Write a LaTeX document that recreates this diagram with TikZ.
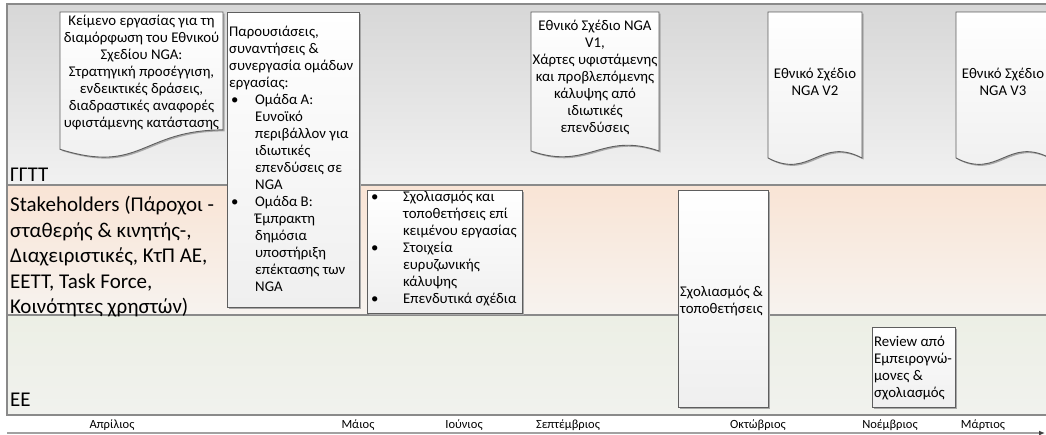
\documentclass[tikz,border=0pt]{standalone}
\usepackage{fontspec}
\setmainfont{Carlito}
\usetikzlibrary{arrows.meta}

\definecolor{laneline}{HTML}{8A8A8A}
\definecolor{boxline}{HTML}{5E5E5E}
\definecolor{shadowc}{HTML}{A8A8A8}
\definecolor{topA}{HTML}{D7D7D7}
\definecolor{topB}{HTML}{F1F1F1}
\definecolor{midA}{HTML}{F9E4D5}
\definecolor{midB}{HTML}{F7F3EF}
\definecolor{lowA}{HTML}{ECEFE5}
\definecolor{lowB}{HTML}{F1F2EE}
\definecolor{docB}{HTML}{EFEFEF}

\newcommand{\bodysize}{\fontsize{14.8}{17}\selectfont}
\newcommand{\lanesize}{\fontsize{21}{25.5}\selectfont}
\newcommand{\monthsize}{\fontsize{12.5}{13}\selectfont}

% document symbol with a flowchart-style bottom edge
% #1 x, #2 y (top), #3 width, #4 height
\newcommand{\docoutline}[4]{%
  (#1,#2) -- ({#1+#3},#2) -- ({#1+#3},{#2+0.802*#4})
  .. controls ({#1+0.5*#3},{#2+0.802*#4}) and ({#1+0.5*#3},{#2+1.107*#4}) ..
  (#1,{#2+0.934*#4}) -- cycle}
% document symbol with a symmetric wave at the bottom
% #1 x, #2 y (top), #3 width, #4 y of both wave ends, #5 wave depth
\newcommand{\waveoutline}[5]{%
  (#1,#2) -- ({#1+#3},#2) -- ({#1+#3},#4)
  .. controls ({#1+0.55*#3},{#4-#5}) and ({#1+0.45*#3},{#4+#5}) ..
  (#1,#4) -- cycle}
\newcommand{\docshape}[4]{%
  \fill[shadowc,shift={(1.5,1.5)}] \docoutline{#1}{#2}{#3}{#4};
  \draw[docstyle] \docoutline{#1}{#2}{#3}{#4};}
\newcommand{\waveshape}[5]{%
  \fill[shadowc,shift={(1.5,1.5)}] \waveoutline{#1}{#2}{#3}{#4}{#5};
  \draw[docstyle] \waveoutline{#1}{#2}{#3}{#4}{#5};}
\newcommand{\boxshape}[4]{%
  \fill[shadowc,shift={(1.5,1.5)}] (#1,#2) rectangle (#3,#4);
  \draw[docstyle] (#1,#2) rectangle (#3,#4);}

\begin{document}
\begin{tikzpicture}[x=1pt,y=-1pt,
  docstyle/.style={draw=boxline,line width=0.9pt,top color=white,bottom color=docB},
  lanerule/.style={draw=laneline,line width=2.2pt},
  bodytext/.style={font=\bodysize,inner sep=0pt,text=black},
  lanetext/.style={font=\lanesize,inner sep=0pt,anchor=north west,align=left},
  monthtext/.style={font=\monthsize,inner sep=0pt,anchor=center},
  axisline/.style={draw=laneline!80,line width=1.6pt,-{Latex[length=6pt,width=5pt,black!75]}}]
\useasboundingbox (0,0) rectangle (1046,434);
\begin{scope}
\clip (0,0) rectangle (1046,434);
\fill[white] (0,0) rectangle (1046,434);

% swimlanes
\shade[top color=topA,bottom color=topB] (7,4) rectangle (1050,185);
\shade[top color=midA,bottom color=midB] (7,185) rectangle (1050,315);
\shade[top color=lowA,bottom color=lowB] (7,315) rectangle (1050,415);
\draw[lanerule] (1050,4) -- (7,4) -- (7,415) -- (1050,415);
\draw[lanerule] (7,185) -- (1050,185);
\draw[lanerule] (7,315) -- (1050,315);

% lane titles
\node[lanetext] (laneG) at (10,167.5) {ΓΓΤΤ};
\node[lanetext] (laneS) at (10,196) {Stakeholders (Πάροχοι -\\σταθερής \& κινητής-,\\Διαχειριστικές, ΚτΠ ΑΕ,\\ΕΕΤΤ, Task Force,\\Κοινότητες χρηστών)};
\node[lanetext] (laneE) at (10,393) {ΕΕ};

% outputs of the ministry
\docshape{60}{12}{163}{147}
\node[bodytext,anchor=north,align=center] (docA) at (141.5,15)
  {Κείμενο εργασίας για τη\\διαμόρφωση του Εθνικού\\Σχεδίου NGA:\\Στρατηγική προσέγγιση,\\ενδεικτικές δράσεις,\\διαδραστικές αναφορές\\υφιστάμενης κατάστασης};

\waveshape{531}{12}{128}{151}{20}
\node[bodytext,anchor=north,align=center] (docV1) at (595,20)
  {Εθνικό Σχέδιο NGA\\V1,\\Χάρτες υφιστάμενης\\και προβλεπόμενης\\κάλυψης από\\ιδιωτικές\\επενδύσεις};

\waveshape{768}{12}{94}{158}{22}
\node[bodytext,anchor=north,align=center] (docV2) at (815,68)
  {Εθνικό Σχέδιο\\NGA V2};

\waveshape{956}{12}{94}{158}{22}
\node[bodytext,anchor=north,align=center] (docV3) at (1003,68)
  {Εθνικό Σχέδιο\\NGA V3};

% presentations and working groups
\boxshape{227}{12}{359}{307}
\node[bodytext,anchor=north west,align=left] (meet) at (229,26)
  {Παρουσιάσεις,\\συναντήσεις \&\\συνεργασία ομάδων\\εργασίας:\\
   \hspace*{2pt}\makebox[24pt][l]{•}Ομάδα Α:\\
   \hspace*{26pt}Ευνοϊκό\\
   \hspace*{26pt}περιβάλλον για\\
   \hspace*{26pt}ιδιωτικές\\
   \hspace*{26pt}επενδύσεις σε\\
   \hspace*{26pt}NGA\\
   \hspace*{2pt}\makebox[24pt][l]{•}Ομάδα Β:\\
   \hspace*{26pt}Έμπρακτη\\
   \hspace*{26pt}δημόσια\\
   \hspace*{26pt}υποστήριξη\\
   \hspace*{26pt}επέκτασης των\\
   \hspace*{26pt}NGA};

% stakeholder feedback
\boxshape{367}{190}{522}{313}
\node[bodytext,anchor=north west,align=left] (feed) at (369,191)
  {\hspace*{2pt}\makebox[32pt][l]{•}Σχολιασμός και\\
   \hspace*{34pt}τοποθετήσεις επί\\
   \hspace*{34pt}κειμένου εργασίας\\
   \hspace*{2pt}\makebox[32pt][l]{•}Στοιχεία\\
   \hspace*{34pt}ευρυζωνικής\\
   \hspace*{34pt}κάλυψης\\
   \hspace*{2pt}\makebox[32pt][l]{•}Επενδυτικά σχέδια};

\boxshape{678}{190}{768}{407}
\node[bodytext,anchor=north west,align=left] (comm) at (680,286)
  {Σχολιασμός \&\\τοποθετήσεις};

% expert review
\boxshape{872}{327}{955}{407}
\node[bodytext,anchor=north west,align=left] (rev) at (874,336)
  {Review από\\Εμπειρογνώ-\\μονες \&\\σχολιασμός};

% time axis
\coordinate (axL) at (7,433);
\coordinate (axR) at (1045,433);
\draw[axisline] (axL) -- (axR);
\node[monthtext] (mApr) at (112,425) {Απρίλιος};
\node[monthtext] (mMay) at (358,425) {Μάιος};
\node[monthtext] (mJun) at (464,425) {Ιούνιος};
\node[monthtext] (mSep) at (568,425) {Σεπτέμβριος};
\node[monthtext] (mOct) at (758,425) {Οκτώβριος};
\node[monthtext] (mNov) at (890,425) {Νοέμβριος};
\node[monthtext] (mMar) at (983,425) {Μάρτιος};
\end{scope}
\end{tikzpicture}
\end{document}
